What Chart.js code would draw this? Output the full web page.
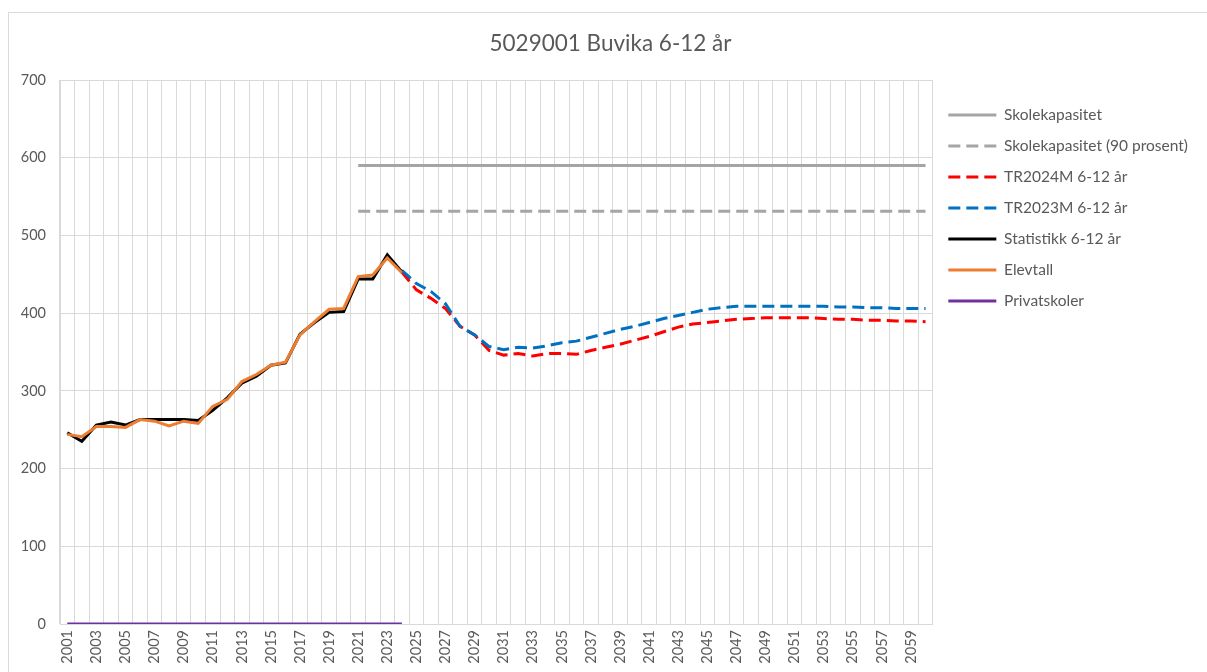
<!DOCTYPE html>
<html>
<head>
<meta charset="utf-8">
<script src="https://cdn.jsdelivr.net/npm/chart.js@4"></script>
<style>
  html, body { margin: 0; padding: 0; background: #fff; overflow: hidden; }
  #frame { position: absolute; left: 8px; top: 12px; width: 1250px; height: 700px; border: 1px solid #d9d9d9; }
  #myChart { position: absolute; left: 0; top: 0; }
</style>
</head>
<body>
<div id="frame"></div>
<canvas id="myChart" width="1207" height="672"></canvas>
<script>
'use strict';

let years = [];
for (let y = 2001; y <= 2060; y++) {
    years.push(String(y));
}

// 2001 - 2024
let statistikk = [246, 235, 256, 260, 256, 263, 263, 263, 263, 262, 275, 291, 310, 319, 333, 336, 373, 388, 401, 402, 444, 444, 475, 453];
let elevtall = [244, 241, 254, 254, 253, 263, 261, 255, 261, 258, 280, 289, 312, 321, 333, 337, 372, 389, 405, 406, 447, 449, 471, 452];
let privatskoler = [0, 0, 0, 0, 0, 0, 0, 0, 0, 0, 0, 0, 0, 0, 0, 0, 0, 0, 0, 0, 0, 0, 0, 0];

// 2024 - 2060
let tr2024 = [453, 430, 419, 406, 383, 372, 352, 346, 348, 345, 348, 348, 347, 352, 356, 360, 365, 370, 376, 382,
    386, 388, 390, 392, 393, 394, 394, 394, 394, 393, 392, 392, 391, 391, 390, 390, 389];
let tr2023 = [455, 438, 428, 412, 383, 372, 357, 353, 356, 355, 358, 362, 364, 369, 374, 379, 383, 388, 393, 397,
    401, 405, 407, 409, 409, 409, 409, 409, 409, 409, 408, 408, 407, 407, 406, 406, 406];

// 2021 - 2060
let kapasitet = 590;
let kapasitet90 = 531;

function fromYear(startYear, values) {
    let out = [];
    for (let i = 0; i < years.length; i++) {
        let idx = Number(years[i]) - startYear;
        out.push(idx >= 0 && idx < values.length ? values[idx] : null);
    }
    return out;
}

function flat(startYear, value) {
    let vals = [];
    for (let y = startYear; y <= 2060; y++) vals.push(value);
    return fromYear(startYear, vals);
}

let grey = '#595959';
let gridColor = '#d9d9d9';
let font = 'Lato';
let dash = [12, 6];

function line(label, data, color, dashed, order) {
    return {
        label: label,
        data: data,
        borderColor: color,
        backgroundColor: color,
        borderWidth: 3,
        borderDash: dashed ? dash : [],
        pointRadius: 0,
        pointHoverRadius: 0,
        tension: 0,
        fill: false,
        spanGaps: false,
        order: order
    };
}

// make the legend box a bit wider so the plot ends where the original does
let widerLegend = {
    id: 'widerLegend',
    afterInit: function (chart) {
        let fit = chart.legend.fit;
        chart.legend.fit = function () {
            fit.call(this);
            this.width += 9;
        };
    }
};

let chartEl = document.getElementById('myChart').getContext('2d');
let myChart = new Chart(chartEl, {
    type: 'line',
    data: {
        labels: years,
        datasets: [
            line('Skolekapasitet', flat(2021, kapasitet), '#a5a5a5', false, 7),
            line('Skolekapasitet (90 prosent)', flat(2021, kapasitet90), '#a5a5a5', true, 6),
            line('TR2024M 6-12 år', fromYear(2024, tr2024), '#ff0000', true, 5),
            line('TR2023M 6-12 år', fromYear(2024, tr2023), '#0070c0', true, 4),
            line('Statistikk 6-12 år', fromYear(2001, statistikk), '#000000', false, 3),
            line('Elevtall', fromYear(2001, elevtall), '#ed7d31', false, 2),
            line('Privatskoler', fromYear(2001, privatskoler), '#7030a0', false, 1)
        ]
    },
    plugins: [widerLegend],
    options: {
        responsive: false,
        animation: false,
        events: [],
        layout: {
            padding: { top: 30, right: 0, bottom: 0, left: 14 }
        },
        plugins: {
            title: {
                display: true,
                text: '5029001 Buvika 6-12 år',
                color: grey,
                font: { family: font, size: 22.5, weight: 'normal' },
                padding: { top: 0, bottom: 23 }
            },
            legend: {
                position: 'right',
                align: 'start',
                title: {
                    display: true,
                    text: ' ',
                    font: { size: 9 },
                    padding: { top: 0, bottom: 51 }
                },
                labels: {
                    usePointStyle: true,
                    pointStyle: 'line',
                    pointStyleWidth: 48,
                    padding: 15.5,
                    color: grey,
                    font: { family: font, size: 15.5 },
                    sort: function (a, b) { return a.datasetIndex - b.datasetIndex; },
                    generateLabels: function (chart) {
                        let items = Chart.defaults.plugins.legend.labels.generateLabels(chart);
                        items.forEach(function (it) {
                            let ds = chart.data.datasets[it.datasetIndex];
                            it.lineDash = ds.borderDash;
                            it.lineWidth = 3;
                            it.strokeStyle = ds.borderColor;
                            it.pointStyle = 'line';
                        });
                        return items;
                    }
                }
            },
            tooltip: { enabled: false }
        },
        scales: {
            x: {
                offset: true,
                grid: { offset: true, color: gridColor, drawTicks: false },
                border: { color: gridColor },
                afterFit: function (s) { s.height = 48; },
                ticks: {
                    autoSkip: false,
                    maxRotation: 90,
                    minRotation: 90,
                    padding: 6,
                    color: grey,
                    font: { family: font, size: 14.5 },
                    callback: function (v, i) { return i % 2 === 0 ? years[i] : ''; }
                }
            },
            y: {
                min: 0,
                max: 700,
                grid: { color: gridColor, drawTicks: false },
                border: { color: gridColor },
                afterFit: function (s) { s.width = 46; },
                ticks: {
                    stepSize: 100,
                    padding: 14,
                    color: grey,
                    font: { family: font, size: 14.5 }
                }
            }
        }
    }
});
</script>
</body>
</html>
